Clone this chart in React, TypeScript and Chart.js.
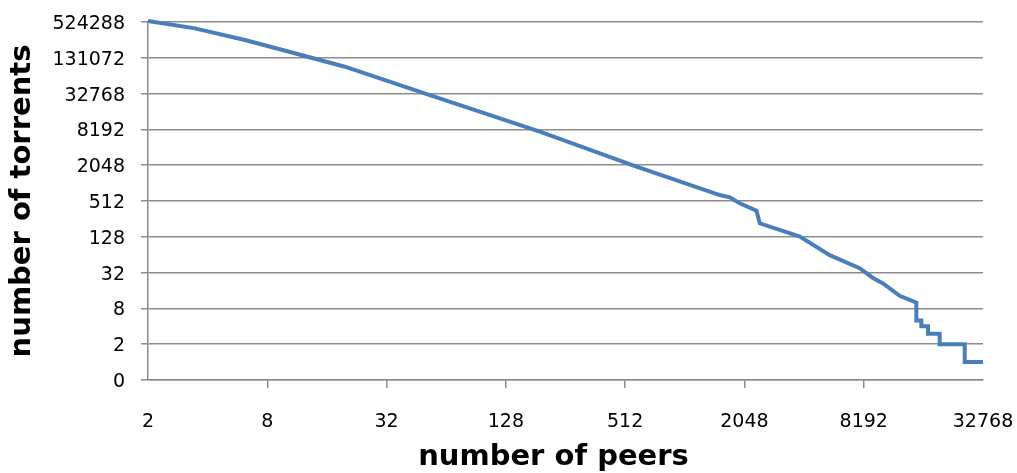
import React, { useEffect, useRef } from "react";
import { Chart, registerables } from "chart.js";

Chart.register(...registerables);

// number of peers (x) and number of torrents (y)
const peers: number[] = [
  2, 3.45, 6.17, 11, 19.7, 52.9, 190, 584, 1538, 1727, 1940, 2356, 2448, 3900,
  5520, 7810, 9130, 10250, 12450, 15100, 15100, 16000, 16000, 17300, 17300,
  19800, 19800, 26500, 26500, 32768,
];
const torrents: number[] = [
  545000, 410000, 261000, 156000, 92800, 31000, 7490, 1930, 645, 591, 468, 352,
  216, 129, 63, 38, 26, 21, 13, 10, 5, 5, 4, 4, 3, 3, 2, 2, 1, 1,
];

const xTickValues: number[] = [2, 8, 32, 128, 512, 2048, 8192, 32768];
const xTickLabels: string[] = ["2", "8", "32", "128", "512", "2048", "8192", "32768"];
const yTickValues: number[] = [0.5, 2, 8, 32, 128, 512, 2048, 8192, 32768, 131072, 524288];
const yTickLabels: string[] = ["0", "2", "8", "32", "128", "512", "2048", "8192", "32768", "131072", "524288"];

const xTitle = "number of peers";
const yTitle = "number of torrents";

const GRID = "#8c8c8c";
const LINE = "#4a7ebb";
const FONT = "'DejaVu Sans', Verdana, sans-serif";

export default function App() {
  const ref = useRef<HTMLCanvasElement | null>(null);

  useEffect(() => {
    if (!ref.current) return;
    const data = peers.map((x, i) => ({ x, y: torrents[i] }));

    const xTitlePlugin = {
      id: "xTitlePlugin",
      afterDraw(chart: any) {
        const { ctx, chartArea } = chart;
        ctx.save();
        ctx.font = `bold 29px ${FONT}`;
        ctx.fillStyle = "#000";
        ctx.textAlign = "center";
        ctx.textBaseline = "middle";
        ctx.fillText(xTitle, (chartArea.left + chartArea.right) / 2 - 12, chart.height - 16);
        ctx.restore();
      },
    };

    const chart = new Chart(ref.current, {
      type: "line",
      data: {
        datasets: [
          {
            data,
            borderColor: LINE,
            borderWidth: 4,
            pointRadius: 0,
            tension: 0,
            fill: false,
            clip: false as any,
          },
        ],
      },
      plugins: [xTitlePlugin],
      options: {
        animation: false,
        responsive: false,
        layout: { padding: { left: 0, right: 34, top: 22, bottom: 0 } },
        plugins: { legend: { display: false }, tooltip: { enabled: false } },
        scales: {
          x: {
            type: "logarithmic",
            position: "bottom",
            min: 2,
            max: 32768,
            afterBuildTicks: (scale: any) => {
              scale.ticks = xTickValues.map((v) => ({ value: v }));
            },
            afterFit: (scale: any) => {
              scale.height = 93;
              scale.paddingLeft = 0;
              scale.paddingRight = 0;
            },
            ticks: {
              autoSkip: false,
              maxRotation: 0,
              padding: 23,
              color: "#000",
              font: { family: FONT, size: 19 },
              callback: (_v: any, i: number) => xTickLabels[i],
            },
            grid: {
              drawOnChartArea: false,
              drawTicks: true,
              tickLength: 8,
              lineWidth: 1.5,
              color: (c: any) =>
                c.index === 0 || c.index === xTickValues.length - 1 ? "rgba(0,0,0,0)" : GRID,
            },
            border: { display: true, color: GRID, width: 1.5 },
            title: { display: false, text: xTitle },
          },
          y: {
            type: "logarithmic",
            position: "left",
            min: 0.5,
            max: 524288,
            afterBuildTicks: (scale: any) => {
              scale.ticks = yTickValues.map((v) => ({ value: v }));
            },
            afterFit: (scale: any) => {
              scale.width = 148;
              scale.paddingTop = 0;
              scale.paddingBottom = 0;
            },
            ticks: {
              autoSkip: false,
              padding: 16,
              labelOffset: 2,
              color: "#000",
              font: { family: FONT, size: 19 },
              callback: (_v: any, i: number) => yTickLabels[i],
            },
            grid: {
              drawOnChartArea: true,
              drawTicks: true,
              tickLength: 7,
              lineWidth: 1.5,
              color: GRID,
            },
            border: { display: true, color: GRID, width: 1.5 },
            title: {
              display: true,
              text: yTitle,
              color: "#000",
              font: { family: FONT, size: 29, weight: "bold" },
              padding: { top: 5, bottom: 0 },
            },
          },
        },
      },
    });
    return () => chart.destroy();
  }, []);

  return (
    <div style={{ position: "fixed", left: 0, top: 0, width: 1017, height: 473, background: "#fff" }}>
      <canvas ref={ref} width={1017} height={473} />
    </div>
  );
}
